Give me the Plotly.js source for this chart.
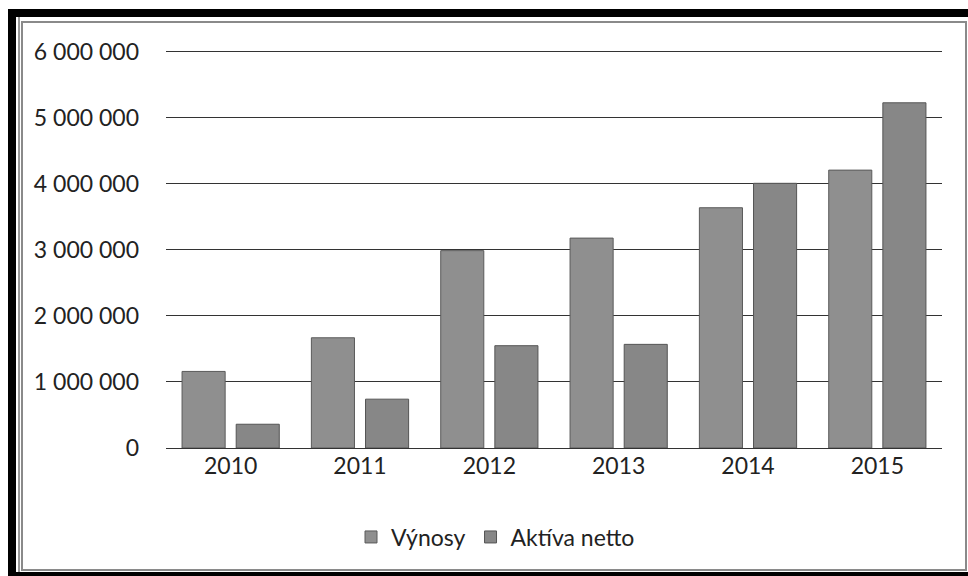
<!DOCTYPE html>
<html>
<head>
<meta charset="utf-8">
<script src="https://cdn.plot.ly/plotly-3.0.1.min.js"></script>
<style>
html,body{margin:0;padding:0;background:#fff;}
#chart{width:968px;height:576px;}
</style>
</head>
<body>
<div id="chart"></div>
<script>
const years = ['2010', '2011', '2012', '2013', '2014', '2015'];
const vynosy = [1160000, 1670000, 2990000, 3180000, 3640000, 4210000];
const aktivaNetto = [360000, 740000, 1550000, 1570000, 4010000, 5230000];
const seriesNames = ['Výnosy', 'Aktíva netto'];
const yTickVals = [0, 1000000, 2000000, 3000000, 4000000, 5000000, 6000000];
const yTickText = ['0', '1 000 000', '2 000 000', '3 000 000', '4 000 000', '5 000 000', '6 000 000'];

// plot area geometry (pixels) used to place frame shapes in paper coords
const W = 968, H = 576, L = 166, R = 26, T = 48, B = 128;
const pw = W - L - R, ph = H - T - B;
const px = x => (x - L) / pw;
const py = y => (H - B - y) / ph;

const traces = [
  {type: 'bar', name: seriesNames[0], x: years, y: vynosy,
   marker: {color: '#8f8f8f', line: {color: '#5a5a5a', width: 1}}},
  {type: 'bar', name: seriesNames[1], x: years, y: aktivaNetto,
   marker: {color: '#878787', line: {color: '#555555', width: 1}}}
];

const shapes = [
  // thick black outer frame bands
  {type: 'rect', xref: 'paper', yref: 'paper', x0: px(8), x1: px(16), y0: py(576), y1: py(9), fillcolor: '#000', line: {width: 0}},
  {type: 'rect', xref: 'paper', yref: 'paper', x0: px(8), x1: px(968), y0: py(17), y1: py(9), fillcolor: '#000', line: {width: 0}},
  {type: 'rect', xref: 'paper', yref: 'paper', x0: px(8), x1: px(968), y0: py(576), y1: py(572), fillcolor: '#000', line: {width: 0}},
  // thin inner lines
  {type: 'line', xref: 'paper', yref: 'paper', x0: px(19), x1: px(19), y0: py(572), y1: py(17), line: {color: '#333', width: 1}},
  {type: 'rect', xref: 'paper', yref: 'paper', x0: px(22), x1: px(966), y0: py(570), y1: py(22), fillcolor: 'rgba(0,0,0,0)', line: {color: '#8a8a8a', width: 2}}
];

const layout = {
  width: W, height: H,
  margin: {l: L, r: R, t: T, b: B, pad: 0},
  paper_bgcolor: '#ffffff',
  plot_bgcolor: '#ffffff',
  font: {family: 'Lato, "Open Sans", sans-serif', size: 23, color: '#222'},
  showlegend: true,
  barmode: 'group',
  bargap: 0.163,
  bargroupgap: 0.204,
  xaxis: {
    type: 'category',
    showgrid: false, zeroline: false,
    showline: false,
    ticks: '',
    ticklabelstandoff: 2,
    tickfont: {size: 23, color: '#222'}
  },
  yaxis: {
    range: [0, 6060000],
    tickvals: yTickVals, ticktext: yTickText,
    showgrid: true, gridcolor: '#333', gridwidth: 1,
    zeroline: true, zerolinecolor: '#333', zerolinewidth: 1,
    showline: false, ticks: '',
    ticklabelstandoff: 26,
    tickfont: {size: 23, color: '#222'}
  },
  legend: {
    orientation: 'h',
    x: px(351), xanchor: 'left',
    y: py(537), yanchor: 'middle',
    font: {size: 23, color: '#222'},
    itemwidth: 30,
    bgcolor: 'rgba(0,0,0,0)'
  },
  shapes: shapes
};

Plotly.newPlot('chart', traces, layout, {displayModeBar: false, staticPlot: true});
</script>
</body>
</html>
